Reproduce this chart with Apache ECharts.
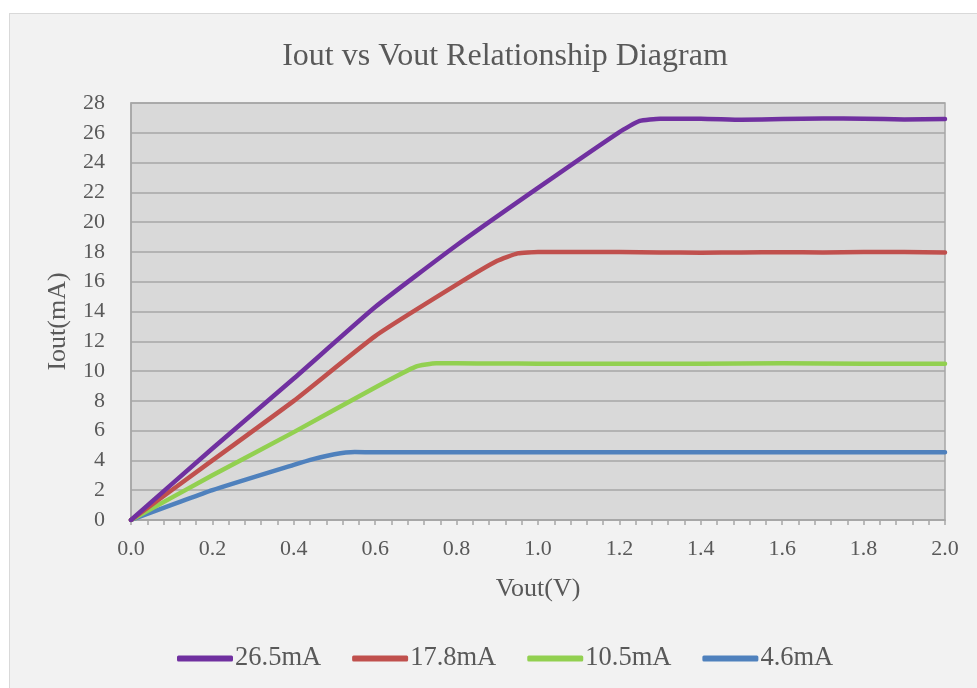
<!DOCTYPE html>
<html>
<head>
<meta charset="utf-8">
<script src="https://cdn.jsdelivr.net/npm/echarts@6/dist/echarts.min.js"></script>
<style>
html,body{margin:0;padding:0;background:#ffffff;width:977px;height:688px;overflow:hidden;}
#frame{position:absolute;left:9px;top:13px;width:1000px;height:700px;background:#f2f2f2;border:1px solid #d9d9d9;}
#chart{position:absolute;left:0;top:0;width:977px;height:688px;}
</style>
</head>
<body>
<div id="frame"></div>
<div id="chart"></div>
<script>
var seriesNames = ['26.5mA', '17.8mA', '10.5mA', '4.6mA'];
var seriesColors = ['#7030a0', '#c0504d', '#92d050', '#4f81bd'];

var vout265 = [0, 0.2, 0.4, 0.6, 0.8, 1.0, 1.2, 1.25, 1.3, 1.4, 1.5, 1.6, 1.7, 1.8, 1.9, 2.0];
var iout265 = [0, 4.8, 9.5, 14.3, 18.45, 22.3, 26.05, 26.8, 26.95, 26.95, 26.88, 26.92, 26.96, 26.95, 26.9, 26.92];

var vout178 = [0, 0.2, 0.4, 0.6, 0.8, 0.9, 0.95, 1.0, 1.1, 1.2, 1.3, 1.4, 1.5, 1.6, 1.7, 1.8, 1.9, 2.0];
var iout178 = [0, 4.0, 8.0, 12.35, 15.8, 17.4, 17.9, 18.0, 18.0, 17.99, 17.97, 17.95, 17.96, 17.98, 17.97, 18.0, 18.0, 17.96];

var vout105 = [0, 0.2, 0.4, 0.6, 0.7, 0.75, 0.8, 0.9, 1.0, 1.2, 1.4, 1.6, 1.8, 2.0];
var iout105 = [0, 3.0, 5.9, 8.9, 10.3, 10.52, 10.52, 10.51, 10.5, 10.5, 10.5, 10.52, 10.5, 10.5];

var vout46 = [0, 0.2, 0.4, 0.45, 0.5, 0.55, 0.6, 0.7, 0.8, 1.0, 1.2, 1.4, 1.6, 1.8, 2.0];
var iout46 = [0, 2.0, 3.7, 4.1, 4.42, 4.56, 4.55, 4.55, 4.55, 4.55, 4.55, 4.55, 4.55, 4.55, 4.55];

var xs = [vout265, vout178, vout105, vout46];
var ys = [iout265, iout178, iout105, iout46];

function pairs(x, y) { return x.map(function (v, i) { return [v, y[i]]; }); }

var FONT = '"Liberation Serif", "Times New Roman", serif';
var TXT = '#595959';
var GRIDC = '#a6a6a6';

var chart = echarts.init(document.getElementById('chart'), null, {renderer: 'canvas'});
var option = {
  backgroundColor: 'transparent',
  animation: false,
  title: {
    text: 'Iout vs Vout Relationship Diagram',
    left: 500, top: 36, textAlign: 'center',
    textStyle: {fontFamily: FONT, fontSize: 32, fontWeight: 'normal', color: TXT}
  },
  legend: {
    left: 177, top: 645, padding: 0,
    data: seriesNames,
    icon: 'roundRect',
    itemWidth: 56, itemHeight: 6, itemGap: 31,
    textStyle: {fontFamily: FONT, fontSize: 26.5, color: TXT, padding: [0, 0, 0, -3]}
  },
  grid: {
    left: 131, right: 32, top: 103, bottom: 168,
    show: true, backgroundColor: '#d9d9d9', borderColor: GRIDC, borderWidth: 1.5
  },
  xAxis: {
    type: 'value', min: 0, max: 2, interval: 0.2,
    name: 'Vout(V)', nameLocation: 'middle', nameGap: 56,
    nameTextStyle: {fontFamily: FONT, fontSize: 26, color: TXT},
    axisLine: {show: true, lineStyle: {color: GRIDC, width: 1.5}},
    axisTick: {show: true, length: 5, lineStyle: {color: GRIDC, width: 1.5}},
    minorTick: {show: true, splitNumber: 5, length: 5, lineStyle: {color: GRIDC, width: 1.5}},
    splitLine: {show: false},
    axisLabel: {fontFamily: FONT, fontSize: 22, color: TXT, margin: 18,
      formatter: function (v) { return v.toFixed(1); }}
  },
  yAxis: {
    type: 'value', min: 0, max: 28, interval: 2,
    name: 'Iout(mA)', nameLocation: 'middle', nameGap: 60,
    nameTextStyle: {fontFamily: FONT, fontSize: 26, color: TXT, padding: [0, 20, 0, 0]},
    axisLine: {show: true, lineStyle: {color: GRIDC, width: 1.5}},
    axisTick: {show: false},
    splitLine: {show: true, lineStyle: {color: GRIDC, width: 1.5}},
    axisLabel: {fontFamily: FONT, fontSize: 22, color: TXT, margin: 26}
  },
  series: seriesNames.map(function (n, k) {
    return {
      name: n, type: 'line',
      data: pairs(xs[k], ys[k]),
      smooth: 0.15,
      showSymbol: false, symbol: 'none',
      lineStyle: {color: seriesColors[k], width: 4.5, cap: 'round', join: 'round'},
      itemStyle: {color: seriesColors[k]},
      z: 10 - k
    };
  })
};
chart.setOption(option);
</script>
</body>
</html>
